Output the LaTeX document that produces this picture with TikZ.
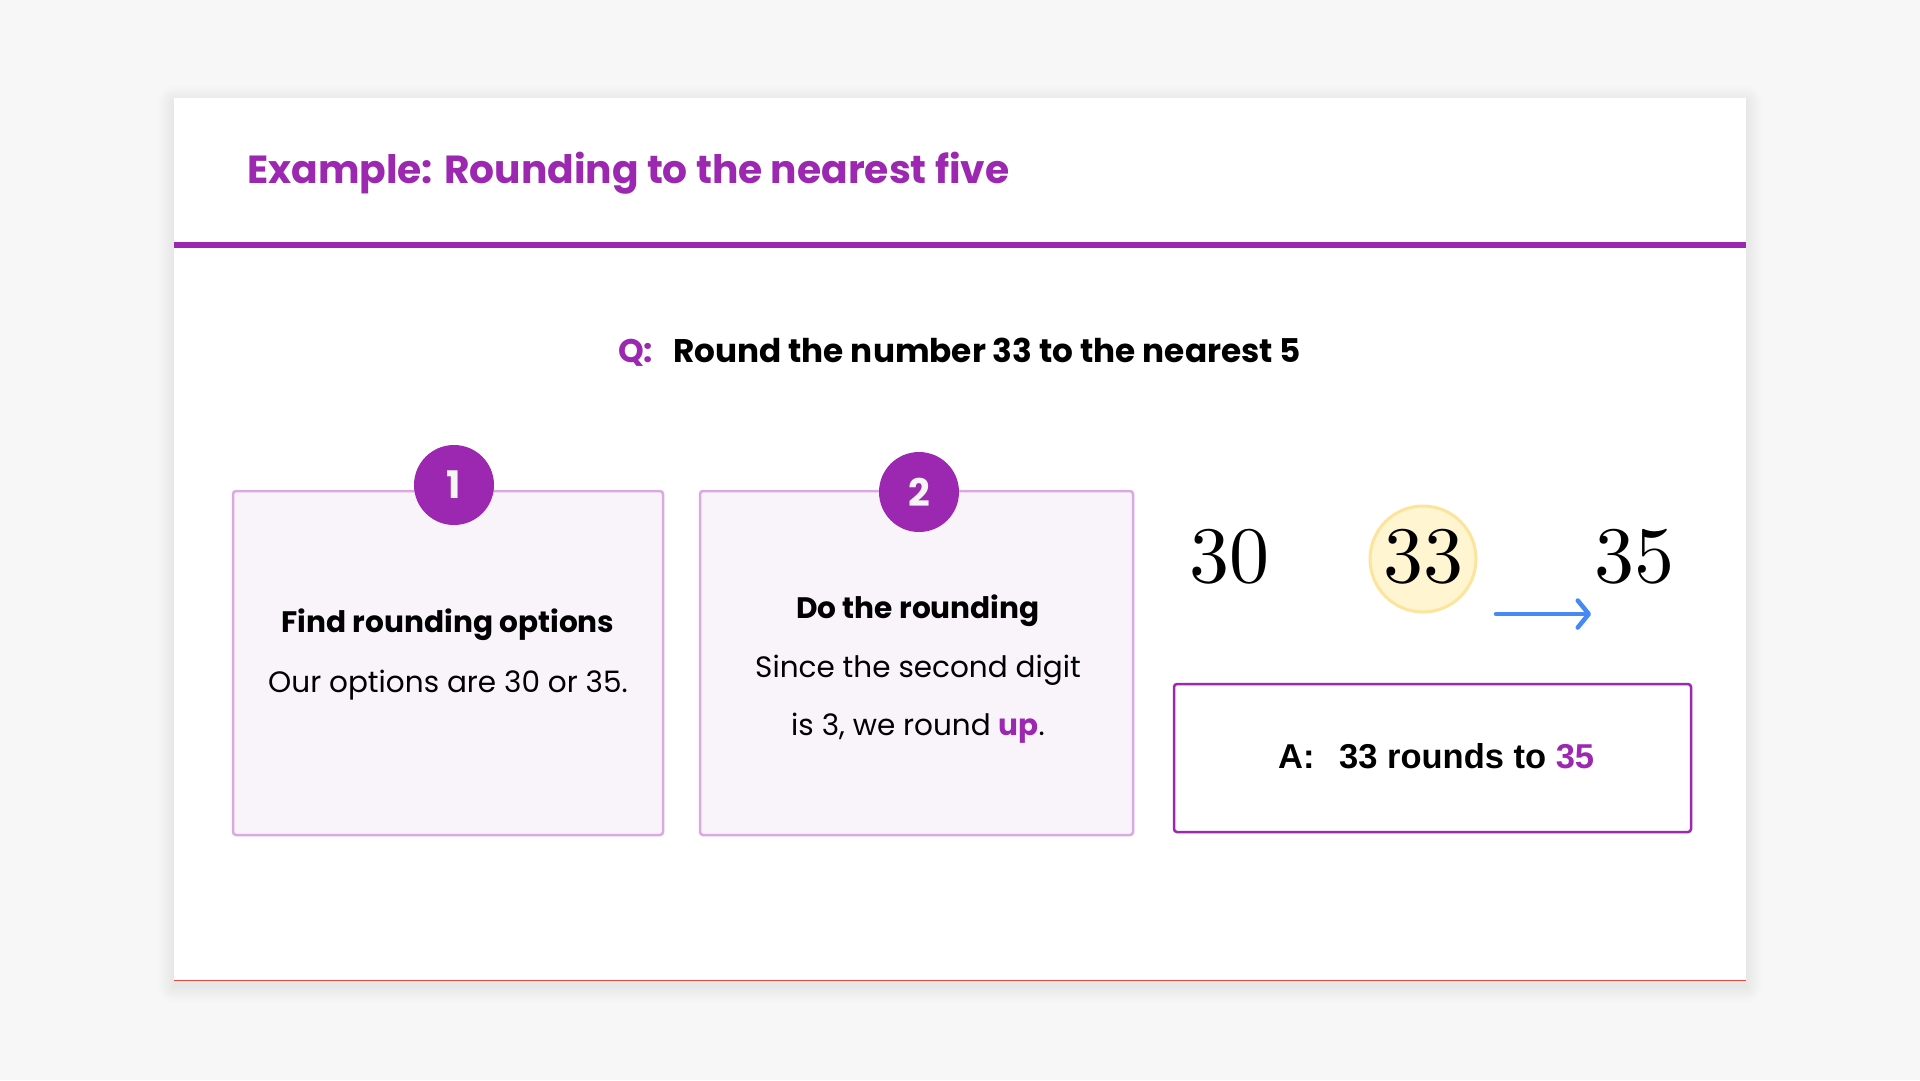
\documentclass[tikz,border=0pt]{standalone}
\usepackage{fontspec}
\setmainfont{Poppins}
\newfontfamily\lmr{lmroman10-regular.otf}
\newfontfamily\ansfont{Liberation Sans}
\usetikzlibrary{arrows.meta}
\definecolor{purp}{HTML}{9C27B0}
\definecolor{bgc}{HTML}{F7F7F7}
\definecolor{boxfill}{HTML}{F9F4FA}
\definecolor{boxline}{HTML}{DAA8E2}
\definecolor{yelfill}{HTML}{FFF5D1}
\definecolor{yelline}{HTML}{FDE49A}
\definecolor{arrblue}{HTML}{4589F5}
\definecolor{redline}{HTML}{E2483D}
\definecolor{digitwhite}{HTML}{F5F5F5}
\tikzset{
  txt/.style={inner sep=0pt, anchor=base},
  stepbox/.style={draw=boxline, line width=2.5pt, fill=boxfill, rounded corners=3pt},
  stepnum/.style={circle, fill=purp, minimum size=80pt, inner sep=0pt, text=digitwhite,
    font=\fontsize{38}{38}\selectfont\bfseries},
  bignum/.style={inner sep=0pt, anchor=base, font=\lmr\fontsize{80}{80}\selectfont},
  boxtitle/.style={txt, font=\fontsize{29.6}{34}\selectfont\bfseries},
  boxbody/.style={txt, font=\fontsize{29.5}{34}\selectfont},
}
\begin{document}
\begin{tikzpicture}[x=1pt,y=-1pt]
\useasboundingbox (0,0) rectangle (1920,1080);
\fill[bgc] (0,0) rectangle (1920,1080);
% card shadow (soft layers)
\foreach \i in {1,...,16}{
  \fill[black, opacity=0.0045, rounded corners=\i pt] (174-\i,98-\i+4) rectangle (1746+\i,981+\i+5);
}
% card
\fill[white] (174,98) rectangle (1746,981);
\draw[redline, line width=1.5pt] (174,980.5) -- (1746,980.5);
\fill[purp] (174,242) rectangle (1746,248);
% title
\node[txt, anchor=base west, text=purp, font=\fontsize{39.2}{46}\selectfont\bfseries] (title) at (247,183) {Example: Rounding to the nearest five};
% question
\node[txt, anchor=base west, text=purp, font=\fontsize{32.7}{36}\selectfont\bfseries] (qlab) at (618,362) {Q:};
\node[txt, anchor=base west, font=\fontsize{32.7}{36}\selectfont\bfseries] (qtext) at (673,362) {Round the number 33 to the nearest 5};
% step boxes
\path[stepbox] (233,491) rectangle (663,835);
\node[stepnum] (n1) at (454,485) {1};
\node[boxtitle] (t1) at (448,632) {Find rounding options};
\node[boxbody] (b1) at (448,692) {Our options are 30 or 35.};
\path[stepbox] (700,491) rectangle (1133,835);
\node[stepnum] (n2) at (919,492) {2};
\node[boxtitle] (t2) at (918,618) {Do the rounding};
\node[boxbody] (b2a) at (918,677) {Since the second digit};
\node[boxbody] (b2b) at (918,735) {is 3, we round \textcolor{purp}{\bfseries up}.};
% number line
\draw[yelline, fill=yelfill, line width=3pt] (1423,559) circle[radius=53];
\node[bignum] (n30) at (1229,582) {30};
\node[bignum] (n33) at (1423,582) {33};
\node[bignum] (n35) at (1634,582) {35};
\coordinate (as) at (1496,614);
\coordinate (at) at (1591,614);
\draw[arrblue, line width=4.5pt, line cap=round, -{Straight Barb[length=11pt,width=27pt,line cap=round,line join=round]}] (as) -- (at);
% answer
\draw[purp, line width=2.5pt, fill=white, rounded corners=3pt] (1174,684) rectangle (1691,832);
\node[txt, anchor=base west, font=\ansfont\fontsize{34.5}{38}\selectfont\bfseries] (alab) at (1278,768) {A:};
\node[txt, anchor=base west, font=\ansfont\fontsize{34.5}{38}\selectfont\bfseries] (atext) at (1339,768) {33 rounds to \textcolor{purp}{35}};
\end{tikzpicture}
\end{document}
